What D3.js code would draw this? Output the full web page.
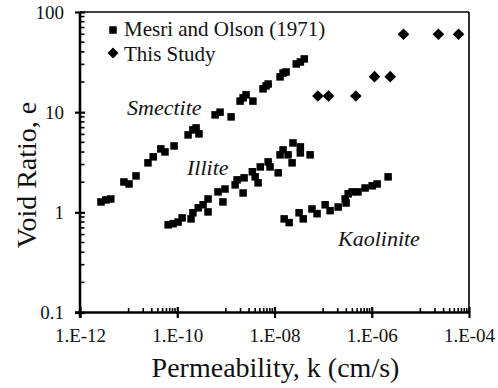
<!DOCTYPE html>
<html>
<head>
<meta charset="utf-8">
<script src="https://cdn.jsdelivr.net/npm/d3@7"></script>
<style>
  html, body { margin: 0; padding: 0; background: #fff; }
  svg text { font-family: "Liberation Serif", "Times New Roman", serif; fill: #111; }
</style>
</head>
<body>
<div id="plot"></div>
<script>
// Mesri and Olson (1971) - permeability k (cm/s) and void ratio e
const smectiteK = [2.7e-12, 3.4e-12, 4.3e-12, 8.0e-12, 1.02e-11, 1.42e-11, 2.5e-11, 3.2e-11, 4.6e-11, 5.6e-11, 8.6e-11,
  1.67e-10, 2.1e-10, 2.44e-10, 2.8e-10, 6.0e-10, 7.6e-10, 1.28e-9, 1.96e-9, 2.26e-9, 2.6e-9, 3.6e-9,
  5.8e-9, 6.7e-9, 7.4e-9, 1.30e-8, 1.50e-8, 1.73e-8, 2.8e-8, 3.4e-8, 4.1e-8];
const smectiteE = [1.27, 1.33, 1.36, 2.01, 1.92, 2.31, 3.12, 3.58, 4.30, 4.01, 4.60,
  5.93, 6.65, 6.96, 6.07, 9.4, 10.0, 8.97, 12.9, 13.9, 14.9, 12.9,
  17.1, 18.3, 19.1, 22.5, 24.6, 25.2, 30.3, 31.7, 34.0];

const illiteK = [6.5e-11, 8.2e-11, 1.04e-10, 1.26e-10, 1.92e-10, 2.1e-10, 2.7e-10, 3.4e-10, 4.3e-10, 4.3e-10,
  6.9e-10, 8.7e-10, 9.6e-10, 1.55e-9, 1.70e-9, 2.26e-9, 2.37e-9, 3.5e-9, 4.0e-9, 4.6e-9, 5.1e-9,
  7.4e-9, 8.1e-9, 1.19e-8, 1.30e-8, 1.50e-8, 1.9e-8, 2.3e-8, 2.4e-8, 3.4e-8, 3.4e-8, 5.4e-8];
const illiteE = [0.75, 0.77, 0.80, 0.88, 0.86, 0.99, 1.11, 1.19, 1.36, 1.01,
  1.60, 1.27, 1.71, 1.88, 2.11, 1.56, 2.21, 2.54, 2.26, 1.97, 2.84,
  3.19, 2.84, 2.48, 3.75, 4.20, 3.75, 3.12, 4.93, 4.50, 3.92, 3.75];

const kaoliniteK = [1.58e-8, 2.0e-8, 3.2e-8, 3.9e-8, 5.9e-8, 7.5e-8, 1.10e-7, 1.39e-7, 2.04e-7, 2.84e-7,
  2.97e-7, 3.27e-7, 3.95e-7, 5.2e-7, 7.3e-7, 1.02e-6, 1.29e-6, 2.17e-6];
const kaoliniteE = [0.86, 0.79, 0.99, 0.86, 1.08, 0.97, 1.19, 1.04, 1.13, 1.36,
  1.24, 1.53, 1.60, 1.60, 1.75, 1.84, 1.92, 2.26];

// This Study
const studyK = [7.8e-8, 1.29e-7, 4.7e-7, 1.14e-6, 2.4e-6, 4.5e-6, 2.35e-5, 6.1e-5];
const studyE = [14.5, 14.5, 14.5, 22.6, 22.6, 60, 60, 60];

const xTicks = [1e-12, 1e-10, 1e-8, 1e-6, 1e-4];
const xTickLabels = ["1.E-12", "1.E-10", "1.E-08", "1.E-06", "1.E-04"];
const yTicks = [0.1, 1, 10, 100];
const yTickLabels = ["0.1", "1", "10", "100"];

const legendNames = ["Mesri and Olson (1971)", "This Study"];
const clayNames = ["Smectite", "Illite", "Kaolinite"];

const W = 498, H = 388;
const plotLeft = 80, plotRight = 469, plotTop = 12, plotBottom = 312.5;

const svg = d3.select("#plot").append("svg")
  .attr("width", W).attr("height", H)
  .style("background-color", "white");

const x = d3.scaleLog().domain([1e-12, 1e-4]).range([plotLeft, plotRight]);
const y = d3.scaleLog().domain([0.1, 100]).range([plotBottom, plotTop]);

// minor ticks: x axis is base-100 style (k*10^n for the odd decades), y axis normal log
const xMinor = [];
for (let i = 0; i < xTicks.length - 1; i++) {
  for (let k = 1; k <= 9; k++) xMinor.push(xTicks[i] * 10 * k);
}
const yMinor = [];
for (let i = 0; i < yTicks.length - 1; i++) {
  for (let k = 2; k <= 9; k++) yMinor.push(yTicks[i] * k);
}

// frame (top and right)
svg.append("line").attr("x1", plotLeft).attr("y1", plotTop).attr("x2", plotRight).attr("y2", plotTop)
  .attr("stroke", "#000").attr("stroke-width", 1.6);
svg.append("line").attr("x1", plotRight).attr("y1", plotTop).attr("x2", plotRight).attr("y2", plotBottom)
  .attr("stroke", "#000").attr("stroke-width", 1.6);

// x axis
const xAxis = svg.append("g")
  .attr("transform", `translate(0,${plotBottom})`)
  .call(d3.axisBottom(x).tickValues(xTicks)
    .tickFormat((d, i) => xTickLabels[i])
    .tickSizeInner(5.5).tickSizeOuter(0).tickPadding(10.5));
xAxis.select(".domain").attr("stroke", "#000").attr("stroke-width", 2.6)
  .attr("d", `M${plotLeft - 5},0H${plotRight}`);
xAxis.selectAll(".tick line").attr("stroke", "#000").attr("stroke-width", 2.2).attr("y1", -5.5);
xAxis.selectAll(".tick text").style("font-size", "19px").attr("fill", "#111");

svg.append("g").selectAll("line").data(xMinor).join("line")
  .attr("x1", d => x(d)).attr("x2", d => x(d))
  .attr("y1", plotBottom).attr("y2", plotBottom - 4.5)
  .attr("stroke", "#000").attr("stroke-width", 1.6);

// y axis
const yAxis = svg.append("g")
  .attr("transform", `translate(${plotLeft},0)`)
  .call(d3.axisLeft(y).tickValues(yTicks)
    .tickFormat((d, i) => yTickLabels[i])
    .tickSizeInner(5).tickSizeOuter(0).tickPadding(11));
yAxis.select(".domain").attr("stroke", "#000").attr("stroke-width", 2.6)
  .attr("d", `M0,${plotTop}V${plotBottom + 5}`);
yAxis.selectAll(".tick line").attr("stroke", "#000").attr("stroke-width", 2.2).attr("x1", 5);
yAxis.selectAll(".tick text").style("font-size", "19px").attr("fill", "#111");

svg.append("g").selectAll("line").data(yMinor).join("line")
  .attr("x1", plotLeft).attr("x2", plotLeft + 4.5)
  .attr("y1", d => y(d)).attr("y2", d => y(d))
  .attr("stroke", "#000").attr("stroke-width", 1.6);

// axis titles
svg.append("text")
  .attr("x", (plotLeft + plotRight) / 2 + 1).attr("y", 377)
  .attr("text-anchor", "middle")
  .style("font-size", "28px")
  .text("Permeability, k (cm/s)");

svg.append("text")
  .attr("transform", "translate(36,175) rotate(-90)")
  .attr("text-anchor", "middle")
  .style("font-size", "28px")
  .text("Void Ratio, e");

// Mesri and Olson squares
const sq = 7.5;
const mesri = [
  d3.zip(smectiteK, smectiteE),
  d3.zip(illiteK, illiteE),
  d3.zip(kaoliniteK, kaoliniteE)
].flat();
svg.append("g").selectAll("rect").data(mesri).join("rect")
  .attr("x", d => x(d[0]) - sq / 2).attr("y", d => y(d[1]) - sq / 2)
  .attr("width", sq).attr("height", sq)
  .attr("fill", "#000");

// This Study diamonds
const diamond = d3.symbol().type(d3.symbolSquare).size(68);
svg.append("g").selectAll("path").data(d3.zip(studyK, studyE)).join("path")
  .attr("d", diamond)
  .attr("transform", d => `translate(${x(d[0])},${y(d[1])}) rotate(45)`)
  .attr("fill", "#000");

// clay labels
const clayPos = [[127, 115], [187, 175], [338, 246]];
svg.append("g").selectAll("text").data(clayNames).join("text")
  .attr("x", (d, i) => clayPos[i][0]).attr("y", (d, i) => clayPos[i][1])
  .style("font-size", "22px").style("font-style", "italic")
  .text(d => d);

// legend
const legend = svg.append("g");
legend.append("rect").attr("x", 113 - sq / 2).attr("y", 30 - sq / 2)
  .attr("width", sq).attr("height", sq).attr("fill", "#000");
legend.append("path").attr("d", d3.symbol().type(d3.symbolSquare).size(60))
  .attr("transform", "translate(113,53) rotate(45)").attr("fill", "#000");
legend.selectAll("text").data(legendNames).join("text")
  .attr("x", 124).attr("y", (d, i) => 36 + i * 25)
  .style("font-size", "21px")
  .text(d => d);
</script>
</body>
</html>
